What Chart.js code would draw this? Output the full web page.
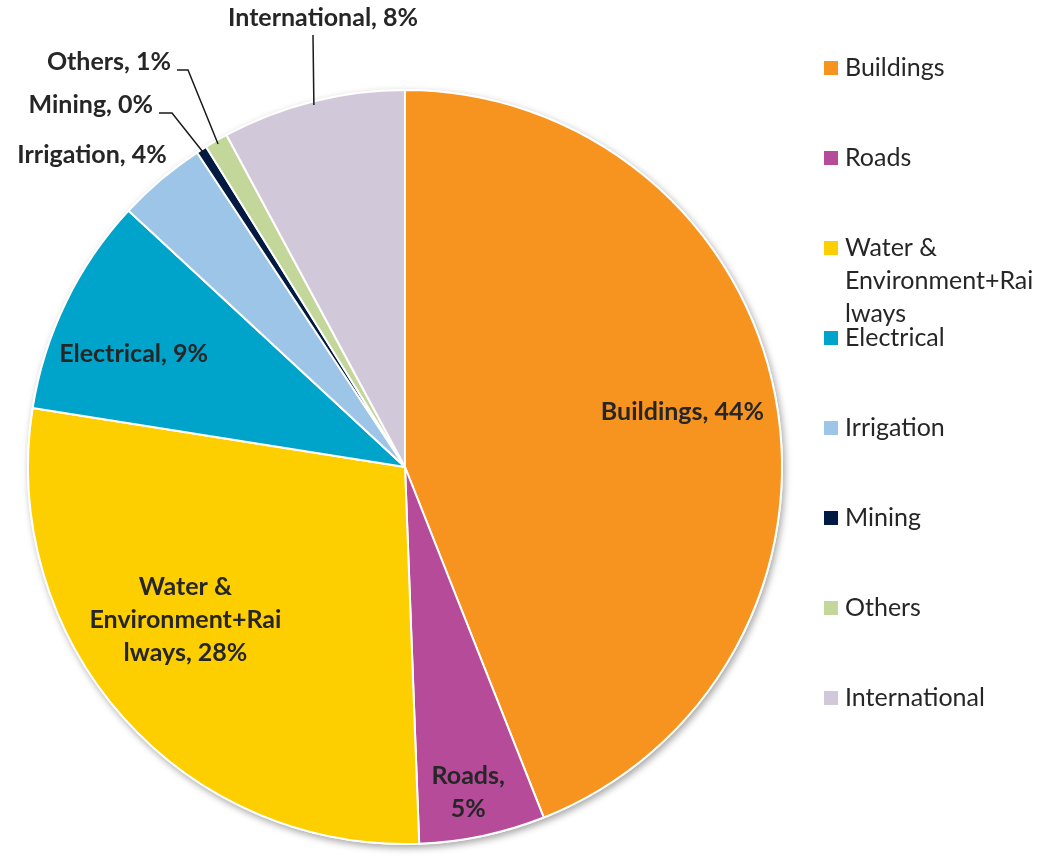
<!DOCTYPE html>
<html>
<head>
<meta charset="utf-8">
<script src="https://cdn.jsdelivr.net/npm/chart.js@4.4.0/dist/chart.umd.min.js"></script>
<style>
  html,body{margin:0;padding:0;background:#fff;}
  #wrap{width:1051px;height:859px;}
</style>
</head>
<body>
<div id="wrap"><canvas id="myChart" width="1051" height="859"></canvas></div>
<script>
'use strict';
// share of work by segment (%)
let categories=['Buildings','Roads','Water & Environment+Railways','Electrical','Irrigation','Mining','Others','International'];
let shares=[44.0,5.4,28.1,9.4,3.8,0.45,1.0,7.85];
let colors=['#F7941F','#B54B99','#FDCE00','#00A3C9','#9DC5E8','#021A42','#C4D79B','#D1C9DA'];
// how each label is broken into lines ({p} = rounded percent)
let labelLines=[
  ['Buildings, {p}'],
  ['Roads,','{p}'],
  ['Water &','Environment+Rai','lways, {p}'],
  ['Electrical, {p}'],
  ['Irrigation, {p}'],
  ['Mining, {p}'],
  ['Others, {p}'],
  ['International, {p}']
];
let legendLines=[['Buildings'],['Roads'],['Water &','Environment+Rai','lways'],['Electrical'],['Irrigation'],['Mining'],['Others'],['International']];

let textColor='#262626';
let labelFont='bold 25px Lato';

// inside labels: fraction of radius + angle nudge (deg); outside: leader path + text anchor
let placement=[
  {r:0.75,da:-0.4},
  {r:0.88,da:0.9},
  {r:0.71,da:6.7},
  {r:0.78,da:-3.3},
  {text:[92,155],align:'center'},
  {path:[[172,113],[159,113]],text:[153,105],align:'right'},
  {path:[[188,70],[177,70]],text:[171,62],align:'right'},
  {path:[[313,35]],text:[323,18],align:'center'}
];

function drawLines(ctx,lines,x,y,align){
  ctx.textAlign=align;
  let lh=33;
  let top=y-(lines.length-1)*lh/2;
  lines.forEach(function(t,i){ctx.fillText(t,x,top+i*lh);});
}

let pieShadow={
  id:'pieShadow',
  beforeDatasetsDraw(chart){
    let arc=chart.getDatasetMeta(0).data[0];
    let ctx=chart.ctx;
    ctx.save();
    ctx.shadowColor='rgba(0,0,0,0.35)';
    ctx.shadowBlur=7;
    ctx.shadowOffsetX=2;
    ctx.shadowOffsetY=3;
    ctx.beginPath();
    ctx.arc(arc.x,arc.y,arc.outerRadius+1,0,Math.PI*2);
    ctx.fillStyle='#fff';
    ctx.fill();
    ctx.restore();
  }
};

let sliceLabels={
  id:'sliceLabels',
  afterDatasetsDraw(chart){
    let ctx=chart.ctx;
    let arcs=chart.getDatasetMeta(0).data;
    ctx.save();
    ctx.font=labelFont;
    ctx.fillStyle=textColor;
    ctx.strokeStyle='#1a1a1a';
    ctx.lineWidth=1.5;
    ctx.textBaseline='middle';
    arcs.forEach(function(arc,i){
      let p=arc.getProps(['x','y','startAngle','endAngle','outerRadius'],true);
      let mid=(p.startAngle+p.endAngle)/2;
      let pct=Math.round(shares[i])+'%';
      let lines=labelLines[i].map(function(t){return t.replace('{p}',pct);});
      let pl=placement[i];
      if(pl.r){
        let a=mid+pl.da*Math.PI/180;
        drawLines(ctx,lines,p.x+Math.cos(a)*p.outerRadius*pl.r,p.y+Math.sin(a)*p.outerRadius*pl.r,'center');
      }else{
        if(pl.path){
          ctx.beginPath();
          ctx.moveTo(p.x+Math.cos(mid)*p.outerRadius*0.99,p.y+Math.sin(mid)*p.outerRadius*0.99);
          pl.path.forEach(function(pt){ctx.lineTo(pt[0],pt[1]);});
          ctx.stroke();
        }
        drawLines(ctx,lines,pl.text[0],pl.text[1],pl.align);
      }
    });
    ctx.restore();
  }
};

let sideLegend={
  id:'sideLegend',
  afterDraw(chart){
    let ctx=chart.ctx;
    ctx.save();
    ctx.font='25px Lato';
    ctx.textBaseline='middle';
    ctx.textAlign='left';
    legendLines.forEach(function(lines,i){
      let y=68+i*90;
      ctx.fillStyle=colors[i];
      ctx.fillRect(824,y-7,14,14);
      ctx.fillStyle=textColor;
      lines.forEach(function(t,j){ctx.fillText(t,845,y+j*33);});
    });
    ctx.restore();
  }
};

Chart.defaults.font.family='Lato';

new Chart(document.getElementById('myChart'),{
  type:'pie',
  data:{
    labels:categories,
    datasets:[{
      data:shares,
      backgroundColor:colors,
      borderColor:'#ffffff',
      borderWidth:2
    }]
  },
  options:{
    responsive:false,
    animation:false,
    radius:377,
    layout:{padding:{left:28,top:90,right:269,bottom:15}},
    plugins:{
      legend:{display:false},
      tooltip:{enabled:false}
    }
  },
  plugins:[pieShadow,sliceLabels,sideLegend]
});
</script>
</body>
</html>
